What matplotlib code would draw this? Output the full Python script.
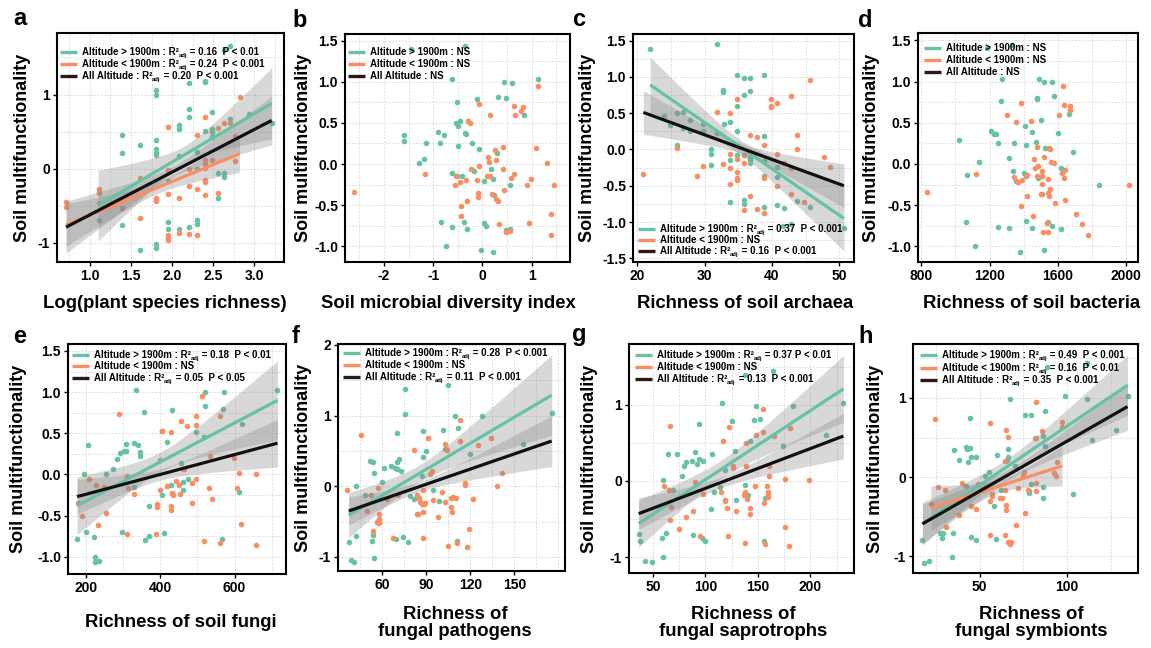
import matplotlib
matplotlib.use("Agg")
import matplotlib.pyplot as plt
import numpy as np
from matplotlib.ticker import AutoMinorLocator
from matplotlib.transforms import offset_copy

plt.rcParams['font.family'] = ['Liberation Sans', 'DejaVu Sans']
plt.rcParams['font.weight'] = 'bold'
plt.rcParams['axes.unicode_minus'] = False

# ---------------- data (x, y) ----------------
# a: Log(plant species richness)
a_high = [(2.63,1.60),(2.70,1.66),(2.20,1.16),(2.40,1.17),(2.40,1.18),(1.80,1.06),(1.80,1.00),
          (2.20,0.80),(2.20,0.69),(2.48,0.76),(2.70,0.67),(2.94,0.74),(3.21,0.62),(1.39,0.46),
          (1.61,0.32),(1.80,0.38),(1.80,0.26),(1.80,0.21),(1.80,0.19),(1.39,0.21),(2.08,0.59),
          (2.08,0.53),(2.40,0.51),(2.48,0.53),(2.48,0.49),(2.48,0.43),(2.08,0.17),(2.30,0.22),
          (2.30,-0.01),(2.56,-0.06),(2.63,-0.06),(2.63,-0.11),(2.56,-0.39),(1.11,-0.70),(1.39,-0.76),
          (1.95,-0.72),(1.95,-0.82),(2.08,-0.81),(2.20,-0.79),(2.30,-0.69),(2.30,-0.75),(1.80,-1.02),
          (1.80,-1.07),(1.61,-1.10),(1.95,-0.17)]
a_low = [(0.71,-0.45),(0.71,-0.52),(1.11,-0.27),(1.11,-0.31),(1.11,-0.33),(1.11,-0.47),(1.39,-0.53),
         (1.61,-0.13),(1.61,-0.67),(1.80,-0.40),(1.80,-0.44),(1.95,0.56),(1.95,-0.02),(1.95,-0.34),
         (1.95,-0.89),(1.95,-0.93),(1.95,-0.96),(2.08,-0.40),(2.08,-0.87),(2.20,-0.01),(2.20,-0.23),
         (2.20,-0.88),(2.30,0.46),(2.30,-0.27),(2.30,-0.89),(2.40,0.69),(2.40,0.12),(2.40,0.06),
         (2.40,0.01),(2.40,-0.15),(2.40,-0.18),(2.40,-0.35),(2.48,0.12),(2.56,0.55),(2.63,0.62),
         (2.70,0.62),(2.56,-0.33),(2.76,0.44),(2.76,0.10),(2.82,0.96)]
# b: Soil microbial diversity index
b_high = [(-1.44,1.40),(-0.35,1.44),(-0.61,1.03),(0.44,1.00),(0.61,0.99),(1.13,1.03),(-0.10,0.79),
          (0.32,0.82),(0.49,0.80),(0.85,0.60),(-0.51,0.75),(-0.54,0.50),(-0.49,0.46),(-0.46,0.52),
          (-1.60,0.35),(-1.60,0.28),(-0.90,0.39),(-0.78,0.35),(-0.36,0.38),(-0.33,0.37),(-1.14,0.26),
          (-0.87,0.25),(-0.49,0.22),(-0.21,0.26),(-0.06,0.18),(0.30,0.13),(-1.19,0.06),(-1.29,0.01),
          (-0.61,-0.11),(-0.52,-0.14),(-0.42,-0.15),(-0.17,-0.09),(0.17,-0.06),(0.04,-0.21),(0.22,-0.18),
          (0.56,-0.26),(0.24,-0.38),(-0.84,-0.70),(-0.61,-0.77),(-0.38,-0.70),(-0.32,-0.79),(0.04,-0.72),
          (0.08,-0.75),(0.49,-0.80),(0.57,-0.79),(-0.73,-1.00),(-0.02,-1.05),(0.21,-1.07)]
b_low = [(-2.60,-0.34),(-1.17,-0.12),(-0.55,-0.25),(-0.53,-0.15),(-0.46,-0.22),(-0.33,-0.19),(-0.44,-0.51),
         (-0.43,-0.63),(-0.31,-0.45),(-0.29,0.52),(-0.25,0.50),(-0.07,0.73),(0.15,0.60),(-0.24,-0.06),
         (-0.11,-0.19),(-0.08,-0.35),(-0.08,-0.40),(-0.06,-0.02),(0.12,0.08),(0.14,0.02),(0.09,-0.15),
         (0.15,-0.14),(0.19,-0.36),(0.28,-0.42),(0.32,-0.45),(0.25,0.17),(0.27,0.05),(0.41,0.21),
         (0.42,-0.06),(0.33,-0.73),(0.44,-0.31),(0.48,-0.83),(0.57,-0.81),(0.59,-0.17),(0.65,-0.12),
         (0.65,0.70),(0.66,0.60),(0.78,0.65),(0.82,0.69),(0.98,-0.18),(0.91,-0.25),(0.95,-0.72),
         (1.09,0.20),(1.13,0.95),(1.32,0.01),(1.39,-0.61),(1.39,-0.86),(1.46,-0.26)]
# c: Richness of soil archaea
c_high = [(21.9,1.39),(31.8,1.45),(34.8,1.03),(35.8,0.99),(36.8,0.99),(38.8,1.03),(32.8,0.82),(32.8,0.79),
          (36.8,0.80),(35.8,0.75),(34.8,0.60),(33.8,0.38),(32.9,0.35),(23.9,0.46),(24.9,0.34),(25.9,0.50),
          (26.8,0.52),(26.8,0.29),(27.9,0.40),(27.9,0.26),(29.8,0.35),(29.8,0.25),(31.8,0.23),(34.8,0.26),
          (38.8,0.18),(25.9,0.06),(30.9,0.01),(30.9,-0.06),(30.9,-0.22),(33.8,-0.15),(34.8,-0.08),
          (36.8,-0.11),(36.8,-0.14),(36.8,-0.18),(35.8,-0.08),(38.8,-0.16),(38.8,-0.37),(40.8,-0.24),
          (40.8,-0.38),(33.8,-0.72),(35.8,-0.70),(35.8,-0.75),(38.8,-0.79),(40.8,-0.77),(41.8,-0.80),
          (43.7,-0.71),(45.7,-0.79),(41.7,-1.06),(42.8,-1.02),(50.7,-1.08)]
c_low = [(20.9,-0.34),(25.9,0.02),(28.9,-0.36),(29.8,-0.23),(31.8,0.52),(32.8,-0.20),(33.8,0.50),
         (33.8,-0.06),(33.8,-0.25),(33.8,-0.47),(34.8,0.70),(34.8,-0.13),(34.8,-0.31),(34.8,-0.39),
         (34.8,-0.42),(35.8,-0.07),(35.8,-0.19),(35.8,-0.84),(36.8,0.20),(36.8,-0.64),(37.8,0.17),
         (37.8,-0.82),(38.8,0.06),(38.8,-0.40),(38.8,-0.87),(39.8,0.70),(39.8,0.60),(39.8,0.58),
         (40.8,0.64),(40.8,-0.06),(40.8,-0.51),(42.8,0.73),(42.8,-0.25),(42.8,-0.61),(43.7,0.20),
         (43.7,0.00),(44.7,-0.73),(45.7,0.95),(47.7,-0.11),(48.7,-0.24),(41.8,-0.19)]
# d: Richness of soil bacteria
d_high = [(1182,1.41),(1329,1.45),(1271,1.03),(1518,1.00),(1492,1.03),(1567,0.99),(1478,0.80),(1480,0.79),
          (1578,0.83),(1265,0.76),(1502,0.53),(1665,0.61),(1408,0.46),(1447,0.39),(1206,0.40),(1227,0.36),
          (1239,0.36),(1020,0.29),(1251,0.26),(1345,0.25),(1416,0.23),(1475,0.27),(1525,0.19),(1602,0.37),
          (1688,0.14),(1316,0.07),(1139,0.02),(1337,-0.08),(1402,-0.11),(1414,-0.14),(1357,-0.21),
          (1484,-0.17),(1067,-0.13),(1622,-0.05),(1845,-0.25),(1508,-0.37),(1059,-0.70),(1414,-0.69),
          (1251,-0.77),(1312,-0.78),(1449,-0.78),(1545,-0.71),(1565,-0.75),(1620,-0.79),(1112,-1.00),
          (1376,-1.07),(1518,-1.05)]
d_low = [(835,-0.34),(1120,-0.12),(1300,0.60),(1382,0.74),(1353,0.51),(1441,0.52),(1478,0.21),(1463,0.06),
         (1484,-0.02),(1522,0.08),(1551,0.20),(1553,0.18),(1559,0.02),(1578,0.01),(1341,-0.16),(1369,-0.22),
         (1390,-0.19),(1420,-0.13),(1467,-0.05),(1476,-0.15),(1510,-0.08),(1510,-0.15),(1510,-0.24),
         (1541,-0.18),(1555,-0.30),(1545,-0.35),(1549,-0.39),(1500,-0.37),(1421,-0.39),(1382,-0.51),
         (1453,-0.63),(1584,-0.47),(1641,-0.44),(1641,-0.07),(1624,-0.11),(1639,-0.17),(1610,0.60),
         (1633,0.95),(1639,0.71),(1672,0.70),(1672,0.66),(1710,-0.61),(1745,-0.73),(1776,-0.86),
         (1545,-0.82),(1512,-0.82),(1539,-0.72),(2016,-0.26)]
# e: Richness of soil fungi
e_high = [(175,-0.79),(193,0.00),(204,0.36),(200,-0.70),(220,-0.76),(223,-1.00),(223,-1.06),(234,-1.05),
          (252,0.01),(272,0.07),(283,0.19),(292,0.26),(301,0.29),(306,0.37),(308,0.28),(335,1.02),
          (330,0.38),(340,0.36),(344,0.27),(346,0.22),(328,-0.15),(356,0.76),(297,-0.70),(358,-0.80),
          (368,-0.38),(370,-0.75),(405,0.53),(419,0.40),(430,0.78),(403,-0.25),(410,-0.71),(429,-0.13),
          (456,0.14),(462,-0.19),(461,-0.09),(474,-0.05),(495,0.51),(519,0.46),(520,1.00),(520,0.83),
          (572,1.00),(568,0.80),(567,-0.78),(620,0.61),(612,-0.21),(716,1.03)]
e_low = [(178,-0.35),(188,-0.51),(207,-0.06),(227,-0.13),(231,-0.62),(249,-0.15),(254,-0.47),(289,0.73),
         (311,-0.02),(312,-0.17),(310,-0.72),(330,-0.24),(387,-0.72),(391,-0.36),(391,-0.40),(398,0.17),
         (398,-0.19),(404,0.53),(419,-0.14),(429,-0.38),(429,-0.43),(429,0.51),(430,-0.22),(434,-0.25),
         (441,-0.08),(450,-0.13),(455,0.65),(453,-0.24),(461,0.07),(465,0.06),(471,0.59),(486,-0.11),
         (486,-0.35),(495,0.71),(495,0.60),(497,-0.06),(511,0.95),(518,-0.81),(533,0.23),(531,-0.17),
         (540,-0.30),(560,-0.83),(561,0.71),(599,0.20),(606,-0.17),(612,0.02),(617,-0.60),(658,-0.86),
         (659,0.01)]
# f: Richness of fungal pathogens
f_high = [(37,-0.79),(38.8,-1.05),(40.4,-1.07),(42,0.01),(42,-0.70),(48,-0.12),(51.3,0.36),(53.8,0.34),
          (54.3,0.19),(53,-0.77),(53.6,-0.69),(54.5,-1.01),(59.8,0.06),(61,0.26),(65.7,0.28),(68.4,0.26),
          (70,0.25),(70,0.34),(71.4,0.38),(72.5,0.22),(70.3,0.76),(75.5,1.02),(75.5,1.38),(69,-0.74),
          (74,-0.72),(77.8,-0.79),(78.7,-0.14),(81.6,-0.18),(83.7,-0.39),(86.9,0.14),(88,0.78),(88,0.41),
          (89.8,0.50),(94.4,-0.06),(98.5,-0.21),(101.5,0.80),(103,0.53),(104.7,1.43),(109.5,0.99),
          (111.7,0.82),(110.6,-0.78),(120,0.46),(127.7,0.99),(155.7,0.60),(175.5,1.03)]
f_low = [(35.6,-0.06),(45.2,0.72),(49.7,-0.35),(52.5,-0.13),(53.6,-0.63),(56.6,-0.50),(57.7,-0.52),
         (57.7,-0.47),(58,-0.39),(57,-0.03),(63,-0.18),(67.5,-0.73),(70.5,-0.12),(81.6,0.51),(83.5,-0.13),
         (85.3,-0.17),(86.7,-0.25),(84.4,-0.40),(85.7,-0.23),(88.5,-0.25),(89.2,-0.24),(87.6,-0.36),
         (88,-0.73),(88,-0.06),(91.2,0.69),(92.8,0.18),(93.9,0.22),(94.4,-0.20),(97.6,-0.43),(100.6,-0.08),
         (102.6,0.60),(104,0.51),(103,-0.23),(104.9,-0.84),(107,-0.17),(107,-0.29),(107.6,-0.36),
         (108.5,-0.15),(109.9,-0.17),(110.6,-0.81),(112.9,0.94),(113,0.64),(116.5,0.05),(116.5,0.02),
         (117.4,-0.86),(119.2,-0.61),(121.5,-0.18),(125.4,0.58),(134,0.69),(138.2,0.00),(141.3,0.19)]
# g: Richness of fungal saprotrophs
g_high = [(36.4,-0.70),(38,-0.79),(42,-1.05),(49.4,-1.07),(59.5,-1.00),(58.9,-0.75),(62.7,-0.69),(59.5,0.01),
          (64.3,0.35),(69.3,-0.12),(73.2,0.36),(77.6,0.06),(79.2,0.19),(81.4,0.25),(87.4,0.26),(90.3,0.38),
          (91.9,0.22),(94.1,0.75),(94.1,0.29),(97.9,0.26),(88,-0.71),(97,-0.75),(99.5,-0.79),(105.8,0.36),
          (105.2,-0.37),(108,-0.14),(116,1.02),(113.4,-0.08),(119,0.14),(125.5,0.79),(128,0.39),
          (129.3,-0.25),(137.9,1.39),(137.9,-0.05),(141,-0.18),(142.9,0.53),(146.7,0.80),(147.7,0.99),
          (152,0.82),(155.9,-0.79),(157.2,-0.22),(164.8,1.44),(174.3,0.46),(183.5,0.99),(215.2,0.61),
          (231.4,1.03)]
g_low = [(60.1,-0.06),(64.9,-0.12),(66.2,0.72),(66.8,-0.34),(66.2,-0.51),(74.4,-0.63),(81.4,-0.47),
         (88,-0.39),(90.3,-0.02),(97.3,-0.17),(94.7,-0.72),(114.4,-0.15),(116.9,0.52),(118.2,-0.25),
         (119.1,-0.26),(122,0.71),(121,-0.36),(121.7,-0.72),(126.1,0.19),(126.4,0.17),(128.7,-0.39),
         (136.9,-0.18),(137.9,-0.14),(137.9,-0.81),(138.8,0.50),(139.1,0.20),(140,-0.24),(142,-0.35),
         (142,-0.43),(147,-0.07),(147.7,0.61),(155.3,0.94),(154.7,0.64),(155.6,-0.29),(156.9,-0.83),
         (158.5,-0.07),(160,-0.14),(160,-0.18),(160,-0.21),(161,0.07),(161,0.20),(165.1,0.59),
         (175.9,0.02),(176.2,-0.61),(179.4,-0.86),(180.7,0.70),(199.1,0.01)]
# h: Richness of fungal symbionts
h_high = [(17.2,-0.79),(18.1,-1.08),(21.2,-1.06),(27.3,-0.70),(29,-0.70),(28.4,-0.77),(34.4,-0.71),
          (34.2,-1.01),(35.1,0.34),(38.2,0.22),(42,0.38),(42.9,0.36),(44.3,0.37),(43.3,0.19),(45,0.25),
          (48.1,0.26),(42.2,-0.11),(44.3,0.75),(45,-0.75),(48.1,-0.79),(53.1,0.01),(55.3,0.07),(58.2,-0.37),
          (59.4,-0.78),(60.1,0.28),(62.4,-0.16),(65.3,0.22),(66.2,0.36),(66.4,0.26),(67.2,0.99),(70.4,0.14),
          (76.1,0.78),(79.2,0.79),(78.2,-0.18),(78.2,-0.20),(79.4,-0.09),(81.5,0.49),(85.9,0.52),(87.2,0.83),
          (87.4,0.39),(85.9,-0.13),(86.3,-0.26),(88.7,1.39),(99,1.02),(103.4,-0.21),(111.5,0.99),
          (111.5,1.44),(114.3,0.47),(128.2,0.60),(134.5,1.03)]
h_low = [(22,-0.34),(24.2,0.73),(26.1,-0.13),(30,-0.16),(30.9,-0.63),(38.2,-0.48),(40.1,-0.07),(45.2,-0.36),
         (48.1,-0.40),(49,-0.09),(51.3,-0.16),(53.4,-0.13),(56.1,0.68),(56.1,-0.30),(56.9,-0.24),(57,-0.21),
         (56.1,-0.73),(61.8,-0.26),(62.6,-0.26),(64.7,0.20),(64.7,-0.16),(64.9,-0.35),(64.9,-0.41),
         (64.5,-0.73),(64.9,0.59),(66.4,0.51),(66.2,-0.82),(67.2,-0.84),(68.1,-0.82),(71,-0.61),(72,-0.14),
         (74.8,0.01),(75.4,0.07),(76.1,-0.45),(77.7,-0.16),(81.9,0.95),(82.4,0.49),(82.3,-0.07),(82.4,-0.18),
         (85.7,0.58),(93.9,0.19),(92.7,0.05),(93.7,0.01),(97.1,0.69),(97.1,0.63)]

# ---------------- fitted lines: [x0, x1, y0, y1] and bands: [x_centre, half_width_centre, half_width_at_x1] ----
a_fit_high, a_band_high = [1.10, 3.21, -0.50, 0.88], [2.15, 0.12, 0.48]
a_fit_low, a_band_low = [0.71, 2.82, -0.76, 0.20], [1.85, 0.08, 0.25]
a_fit_all, a_band_all = [0.71, 3.21, -0.79, 0.65], [2.00, 0.07, 0.33]
c_fit_high, c_band_high = [21.9, 50.7, 0.89, -0.95], [35.0, 0.10, 0.45]
c_fit_all, c_band_all = [20.9, 50.7, 0.51, -0.50], [35.8, 0.07, 0.30]
e_fit_high, e_band_high = [175, 716, -0.38, 0.90], [400, 0.12, 0.48]
e_fit_all, e_band_all = [175, 716, -0.27, 0.38], [400, 0.07, 0.29]
f_fit_high, f_band_high = [37, 175.5, -0.41, 1.29], [85, 0.12, 0.57]
f_fit_all, f_band_all = [37, 175.5, -0.35, 0.64], [85, 0.07, 0.36]
g_fit_high, g_band_high = [36.4, 231.4, -0.56, 1.21], [115, 0.12, 0.44]
g_fit_all, g_band_all = [36.4, 231.4, -0.43, 0.59], [115, 0.07, 0.30]
h_fit_high, h_band_high = [17.2, 134.5, -0.59, 1.16], [65, 0.10, 0.38]
h_fit_low, h_band_low = [22.0, 97.1, -0.39, 0.14], [62, 0.08, 0.25]
h_fit_all, h_band_all = [17.2, 134.5, -0.59, 0.89], [70, 0.07, 0.30]

# ---------------- legend texts: (group, statistic) ; statistic None -> "NS" ----------------
GROUPS = ["Altitude > 1900m", "Altitude < 1900m", "All Altitude"]
a_stats = ["0.16  P < 0.01", "0.24  P < 0.001", "0.20  P < 0.001"]
b_stats = [None, None, None]
c_stats = ["0.37  P < 0.001", None, "0.16  P < 0.001"]
d_stats = [None, None, None]
e_stats = ["0.18  P < 0.01", None, "0.05  P < 0.05"]
f_stats = ["0.28  P < 0.001", None, "0.11  P < 0.001"]
g_stats = ["0.37 P < 0.01", None, "0.13  P < 0.001"]
h_stats = ["0.49  P < 0.001", "0.16  P < 0.01", "0.35  P < 0.001"]

x_labels = ["Log(plant species richness)", "Soil microbial diversity index", "Richness of soil archaea",
            "Richness of soil bacteria", "Richness of soil fungi", "Richness of\nfungal pathogens",
            "Richness of\nfungal saprotrophs", "Richness of\nfungal symbionts"]
y_label = "Soil multifunctionality"

GREEN = '#66C2A5'
ORANGE = '#FC8D62'
BLACK = '#111111'
LEG_BLACK = '#2A1A16'
LEG_COLORS = [GREEN, ORANGE, LEG_BLACK]
LEG_FS = 7.0

W, H = 1151, 648
fig = plt.figure(figsize=(W / 100, H / 100), dpi=100)
renderer = fig.canvas.get_renderer()
PX2PT = 72.0 / fig.dpi


def add_axes(box):
    l, t, r, b = box
    return fig.add_axes([l / W, 1 - b / H, (r - l) / W, (b - t) / H])


def draw_fit(ax, fit, bnd, color):
    x0, x1, y0, y1 = fit
    xm, wc, wr = bnd
    xs = np.linspace(x0, x1, 150)
    ys = y0 + (y1 - y0) * (xs - x0) / (x1 - x0)
    w = np.sqrt(wc ** 2 + (wr ** 2 - wc ** 2) * ((xs - xm) / (x1 - xm)) ** 2)
    ax.fill_between(xs, ys - w, ys + w, color='#8a8a8a', alpha=0.33, lw=0, zorder=3)
    ax.plot([x0, x1], [y0, y1], color=color, lw=2.3, zorder=4, solid_capstyle='butt')


def draw_legend(ax, bw, bh, stats, dx, rows):
    # dx: left offset of handle in px, rows: row centre offsets from axes top in px
    for grp, st, col, dy in zip(GROUPS, stats, LEG_COLORS, rows):
        yf = 1 - dy / bh
        ax.plot([dx / bw, (dx + 17) / bw], [yf, yf], transform=ax.transAxes, color=col, lw=2.4,
                solid_capstyle='butt', zorder=6, clip_on=False)
        xt = (dx + 22) / bw
        yt = 1 - (dy + 3.3) / bh
        if st is None:
            ax.text(xt, yt, f"{grp} : NS", transform=ax.transAxes, fontsize=LEG_FS,
                    fontweight='bold', ha='left', va='baseline', zorder=6)
            continue
        t1 = ax.text(xt, yt, f"{grp} : R\u00b2", transform=ax.transAxes, fontsize=LEG_FS,
                     fontweight='bold', ha='left', va='baseline', zorder=6)
        w1 = t1.get_window_extent(renderer).width
        tr2 = offset_copy(ax.transAxes, fig=fig, x=(w1 - 0.3) * PX2PT, y=-2.0 * PX2PT, units='points')
        t2 = ax.text(xt, yt, "adj", transform=tr2, fontsize=4.3, fontweight='bold', ha='left',
                     va='baseline', zorder=6)
        w2 = t2.get_window_extent(renderer).width
        tr3 = offset_copy(ax.transAxes, fig=fig, x=(w1 + w2) * PX2PT, y=0, units='points')
        ax.text(xt, yt, f" = {st}", transform=tr3, fontsize=LEG_FS, fontweight='bold', ha='left',
                va='baseline', zorder=6)


def panel(box, xlim, ylim, xticks, yticks, high, low, fits, stats, leg_dx, leg_rows, letter, letter_xy,
          xlabel, xlabel_xy, ylabel_x):
    ax = add_axes(box)
    bw = box[2] - box[0]
    bh = box[3] - box[1]
    ax.set_xlim(*xlim)
    ax.set_ylim(*ylim)
    ax.set_xticks(xticks)
    ax.set_yticks(yticks)
    ax.xaxis.set_minor_locator(AutoMinorLocator(2))
    ax.yaxis.set_minor_locator(AutoMinorLocator(2))
    ax.grid(True, which='both', color='#d4d4d4', linestyle=(0, (2, 2)), linewidth=0.6)
    ax.set_axisbelow(True)
    for s in ax.spines.values():
        s.set_linewidth(1.5)
        s.set_color('black')
        s.set_zorder(7)
    ax.tick_params(which='major', direction='out', length=3, width=1, pad=2, labelsize=10,
                   colors='black')
    ax.tick_params(which='minor', length=0)
    for lab in ax.get_xticklabels() + ax.get_yticklabels():
        lab.set_fontweight('bold')
    hx = [p[0] for p in high]
    hy = [p[1] for p in high]
    lx = [p[0] for p in low]
    ly = [p[1] for p in low]
    ax.scatter(hx, hy, s=16, color=GREEN, linewidths=0, zorder=2)
    ax.scatter(lx, ly, s=16, color=ORANGE, linewidths=0, zorder=2)
    for fit, bnd, col in fits:
        draw_fit(ax, fit, bnd, col)
    draw_legend(ax, bw, bh, stats, leg_dx, leg_rows)
    fig.text(letter_xy[0] / W, 1 - letter_xy[1] / H, letter, fontsize=17, fontweight='bold',
             ha='left', va='baseline')
    fig.text(xlabel_xy[0] / W, 1 - xlabel_xy[1] / H, xlabel, fontsize=13.3, fontweight='bold',
             ha='center', va='top', linespacing=1.0)
    cy = (box[1] + box[3]) / 2
    fig.text(ylabel_x / W, 1 - cy / H, y_label, fontsize=13, fontweight='bold', rotation=90,
             ha='center', va='center')
    return ax


panel((57, 33, 284, 262), (0.60, 3.36), (-1.26, 1.83), [1.0, 1.5, 2.0, 2.5, 3.0], [-1, 0, 1],
      a_high, a_low,
      [(a_fit_high, a_band_high, GREEN), (a_fit_low, a_band_low, ORANGE), (a_fit_all, a_band_all, BLACK)],
      a_stats, 3, [19, 31, 43], 'a', (13, 25), x_labels[0], (165, 295), 23)
panel((345, 34, 570, 262), (-2.79, 1.78), (-1.19, 1.58), [-2, -1, 0, 1], [-1.0, -0.5, 0.0, 0.5, 1.0, 1.5],
      b_high, b_low, [], b_stats, 3, [18, 30, 42], 'b', (292, 27), x_labels[1], (448, 295), 304)
panel((633, 34, 854, 262), (19.36, 52.2), (-1.55, 1.59), [20, 30, 40, 50],
      [-1.5, -1.0, -0.5, 0.0, 0.5, 1.0, 1.5],
      c_high, c_low, [(c_fit_high, c_band_high, GREEN), (c_fit_all, c_band_all, BLACK)],
      c_stats, 5, [195, 206, 217], 'c', (572, 26), x_labels[2], (745, 295), 587)
panel((918, 33, 1138, 262), (780, 2071), (-1.19, 1.59), [800, 1200, 1600, 2000],
      [-1.0, -0.5, 0.0, 0.5, 1.0, 1.5],
      d_high, d_low, [], d_stats, 6, [15, 27, 39], 'd', (858, 27), x_labels[3], (1032, 295), 872)
panel((68, 344, 286, 574), (150.6, 739), (-1.21, 1.585), [200, 400, 600],
      [-1.0, -0.5, 0.0, 0.5, 1.0, 1.5],
      e_high, e_low, [(e_fit_high, e_band_high, GREEN), (e_fit_all, e_band_all, BLACK)],
      e_stats, 4, [11, 22, 34], 'e', (13, 343), x_labels[4], (181, 614), 19)
panel((338, 344, 565, 571), (29.7, 184.6), (-1.2, 2.014), [60, 90, 120, 150], [-1, 0, 1, 2],
      f_high, f_low, [(f_fit_high, f_band_high, GREEN), (f_fit_all, f_band_all, BLACK)],
      f_stats, 5, [9, 21, 33], 'f', (292, 343), x_labels[5], (455, 606), 304)
panel((629, 344, 854, 573), (27.2, 241.5), (-1.21, 1.80), [50, 100, 150, 200], [-1, 0, 1],
      g_high, g_low, [(g_fit_high, g_band_high, GREEN), (g_fit_all, g_band_all, BLACK)],
      g_stats, 6, [11, 23, 35], 'g', (572, 341), x_labels[6], (743, 606), 590)
panel((913, 344, 1138, 573), (11.8, 140.5), (-1.21, 1.68), [50, 100], [-1, 0, 1],
      h_high, h_low,
      [(h_fit_high, h_band_high, GREEN), (h_fit_low, h_band_low, ORANGE), (h_fit_all, h_band_all, BLACK)],
      h_stats, 7, [11, 24, 36], 'h', (858, 343), x_labels[7], (1031, 606), 876)

fig.savefig("out.png", dpi=100)
